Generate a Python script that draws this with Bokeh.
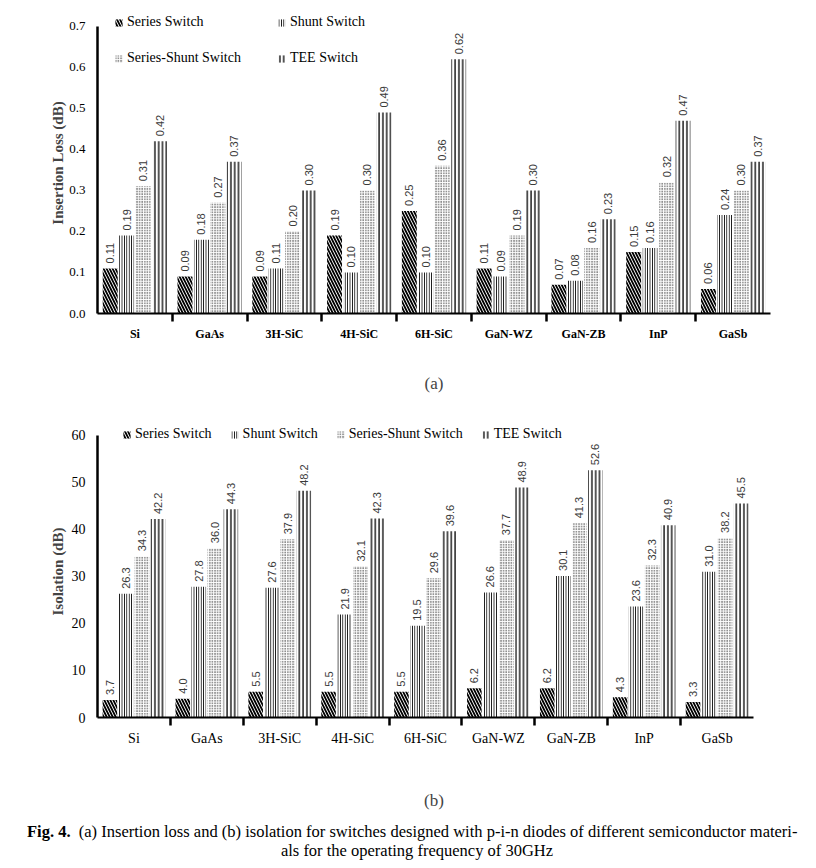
import numpy as np
from bokeh.plotting import figure
from bokeh.layouts import column
from bokeh.models import ColumnDataSource, FixedTicker, Div
from bokeh.transform import dodge
from bokeh.core.properties import value
from bokeh.embed import file_html
from bokeh.resources import INLINE

materials = ["Si", "GaAs", "3H-SiC", "4H-SiC", "6H-SiC", "GaN-WZ", "GaN-ZB", "InP", "GaSb"]
series_names = ["Series Switch", "Shunt Switch", "Series-Shunt Switch", "TEE Switch"]

il_series = [0.11, 0.09, 0.09, 0.19, 0.25, 0.11, 0.07, 0.15, 0.06]
il_shunt = [0.19, 0.18, 0.11, 0.10, 0.10, 0.09, 0.08, 0.16, 0.24]
il_ss = [0.31, 0.27, 0.20, 0.30, 0.36, 0.19, 0.16, 0.32, 0.30]
il_tee = [0.42, 0.37, 0.30, 0.49, 0.62, 0.30, 0.23, 0.47, 0.37]

iso_series = [3.7, 4.0, 5.5, 5.5, 5.5, 6.2, 6.2, 4.3, 3.3]
iso_shunt = [26.3, 27.8, 27.6, 21.9, 19.5, 26.6, 30.1, 23.6, 31.0]
iso_ss = [34.3, 36.0, 37.9, 32.1, 29.6, 37.7, 41.3, 32.3, 38.2]
iso_tee = [42.2, 44.3, 48.2, 42.3, 39.6, 48.9, 52.6, 40.9, 45.5]

il_ticks = [0.0, 0.1, 0.2, 0.3, 0.4, 0.5, 0.6, 0.7]
iso_ticks = [0, 10, 20, 30, 40, 50, 60]

SERIF = "Liberation Serif"
LBL_FONT = "Liberation Sans"

styles = [
    dict(hatch_pattern="left_diagonal_line", hatch_scale=6, hatch_weight=1.8),
    dict(hatch_pattern="vertical_line", hatch_scale=2.4, hatch_weight=1.2),
    dict(hatch_pattern="dot", hatch_scale=2.6, hatch_weight=0.7),
    dict(hatch_pattern="vertical_line", hatch_scale=3.8, hatch_weight=1.3),
]
offsets = [-0.33, -0.11, 0.11, 0.33]


def make_chart(vals, fmt, xend, yend, ticks, tick_fmt, ylabel, xlabel, height, mbt, mbb,
               xlab_bold, xlab_size, ytick_size, xlabel_standoff, ylabel_standoff,
               legend_loc, legend_ncols, label_width):
    n = len(materials)
    xs = [i + 0.5 for i in range(n)]
    data = dict(x=xs)
    keys = ["s0", "s1", "s2", "s3"]
    for k, v in zip(keys, vals):
        data[k] = v
        data[k + "_t"] = [fmt.format(a) for a in v]
    src = ColumnDataSource(data)

    p = figure(width=800, height=height, x_range=(0, xend), y_range=(0, yend),
               output_backend="svg", toolbar_location=None,
               min_border_left=97, min_border_right=30, min_border_top=mbt, min_border_bottom=mbb)
    p.outline_line_color = None
    p.xgrid.grid_line_color = None
    p.ygrid.grid_line_color = None

    for k, name, st, off in zip(keys, series_names, styles, offsets):
        p.vbar(x=dodge("x", off), top=k, width=0.2, source=src, fill_color="white",
               line_color=None, hatch_color="black", legend_label=name, **st)
        p.text(x=dodge("x", off), y=k, text=k + "_t", source=src, angle=np.pi / 2,
               text_align="left", text_baseline="middle", y_offset=-5,
               text_font=value(LBL_FONT), text_font_size="11px", text_color="#3a3a3a")

    xa = p.xaxis[0]
    xa.ticker = FixedTicker(ticks=xs, minor_ticks=list(range(1, n)))
    xa.major_label_overrides = {x: m for x, m in zip(xs, materials)}
    xa.bounds = (0, n)
    xa.major_tick_line_color = None
    xa.major_tick_out = 0
    xa.major_tick_in = 0
    xa.minor_tick_line_color = "black"
    xa.minor_tick_line_width = 2.5
    xa.minor_tick_out = 8
    xa.minor_tick_in = 0
    xa.axis_line_width = 2
    xa.axis_line_color = "black"
    xa.major_label_text_font = SERIF
    xa.major_label_text_font_size = xlab_size
    xa.major_label_text_font_style = "bold" if xlab_bold else "normal"
    xa.major_label_text_color = "black"
    xa.major_label_standoff = 5
    xa.axis_label = xlabel
    xa.axis_label_text_font = SERIF
    xa.axis_label_text_font_size = "17px"
    xa.axis_label_text_font_style = "normal"
    xa.axis_label_standoff = xlabel_standoff

    ya = p.yaxis[0]
    ya.ticker = FixedTicker(ticks=ticks)
    ya.major_label_overrides = {t: tick_fmt.format(t) for t in ticks}
    ya.bounds = (ticks[0], ticks[-1])
    ya.major_tick_line_color = None
    ya.major_tick_out = 0
    ya.major_tick_in = 0
    ya.minor_tick_line_color = None
    ya.axis_line_width = 2.5
    ya.axis_line_color = "black"
    ya.major_label_text_font = SERIF
    ya.major_label_text_font_size = ytick_size
    ya.major_label_text_color = "black"
    ya.major_label_standoff = 12
    ya.axis_label = ylabel
    ya.axis_label_text_font = SERIF
    ya.axis_label_text_font_size = "15px"
    ya.axis_label_text_font_style = "bold"
    ya.axis_label_standoff = ylabel_standoff

    lg = p.legend[0]
    lg.location = legend_loc
    lg.orientation = "horizontal"
    lg.ncols = legend_ncols
    lg.border_line_color = None
    lg.background_fill_alpha = 0
    lg.padding = 0
    lg.margin = 0
    lg.spacing = 18
    lg.glyph_width = 9
    lg.glyph_height = 9
    lg.label_standoff = 4
    lg.label_height = 18
    if label_width:
        lg.label_width = label_width
    lg.label_text_font = SERIF
    lg.label_text_font_size = "14px"
    lg.label_text_color = "black"
    return p


pa = make_chart([il_series, il_shunt, il_ss, il_tee], "{:.2f}", 9, 0.734, il_ticks, "{:.1f}",
                "Insertion Loss (dB)", "(a)", 400, 12, 87,
                True, "12px", "13px", 30, 0, (17, 246), 2, 132)

pb = make_chart([iso_series, iso_shunt, iso_ss, iso_tee], "{:.1f}", 9.233, 62.1, iso_ticks, "{:.0f}",
                "Isolation (dB)", "(b)", 412, 25, 95,
                False, "14px", "14px", 42, 3, (25, 274), 4, None)

caption = Div(
    text=(
        '<div style="padding-left: 22px; white-space: nowrap;"><b>Fig. 4.</b>&nbsp; (a) Insertion loss and (b) '
        'isolation for switches designed with p-i-n diodes of different semiconductor materi-</div>'
        '<div style="width: 824px; text-align: center; white-space: nowrap;">als for the operating frequency of 30GHz</div>'
    ),
    styles={"font-family": "Liberation Serif, Times New Roman, serif", "font-size": "16.5px",
            "line-height": "19px", "color": "black", "margin-top": "10px"},
    width=816, height=52,
)

layout = column(pa, pb, caption, spacing=0)
open("out.html", "w").write(file_html(layout, INLINE))
